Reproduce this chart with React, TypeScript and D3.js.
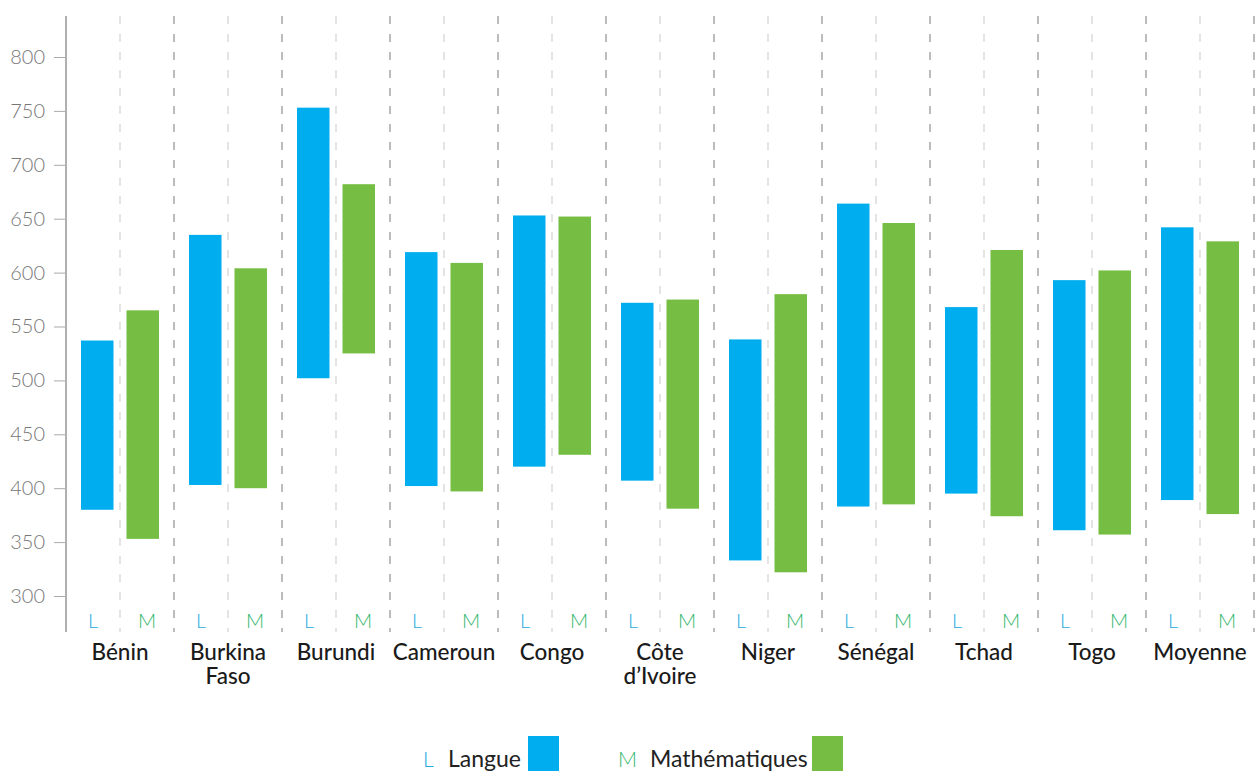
import React, { useEffect, useRef } from "react";
import * as d3 from "d3";

const countries = ["Bénin", "Burkina Faso", "Burundi", "Cameroun", "Congo", "Côte d’Ivoire", "Niger", "Sénégal", "Tchad", "Togo", "Moyenne"];
const langueLow = [380, 403, 502, 402, 420, 407, 333, 383, 395, 361, 389];
const langueHigh = [537, 635, 753, 619, 653, 572, 538, 664, 568, 593, 642];
const mathLow = [353, 400, 525, 397, 431, 381, 322, 385, 374, 357, 376];
const mathHigh = [565, 604, 682, 609, 652, 575, 580, 646, 621, 602, 629];
const yTicks = [300, 350, 400, 450, 500, 550, 600, 650, 700, 750, 800];

const blue = "#00adef";
const green = "#76be43";
const blueText = "#29abe2";
const greenText = "#2db56b";
const font = "Lato, 'Open Sans', sans-serif";

const App: React.FC = () => {
    const svgRef = useRef<SVGSVGElement | null>(null);
    const width = 1260;
    const height = 771;
    const left = 66;
    const right = 1254;
    const axisTop = 16;
    const axisBottom = 632;

    useEffect(() => {
        const svg = d3.select(svgRef.current);
        svg.selectAll("*").remove();

        const x = d3.scaleBand<string>().domain(countries).range([left, right]).padding(0);
        const inner = d3.scaleBand<string>().domain(["L", "M"]).range([0, x.bandwidth()])
            .paddingInner(0.2857).paddingOuter(0.33);
        const y = d3.scaleLinear().domain([300, 800]).range([596, 57]);

        // group separators
        const g = svg.append("g");
        countries.forEach((c) => {
            const x0 = x(c)!;
            g.append("line")
                .attr("x1", x0 + x.bandwidth() / 2).attr("x2", x0 + x.bandwidth() / 2)
                .attr("y1", axisTop).attr("y2", axisBottom)
                .attr("stroke", "#dcdcdc").attr("stroke-width", 1.5)
                .attr("stroke-dasharray", "8,10");
            g.append("line")
                .attr("x1", x0 + x.bandwidth()).attr("x2", x0 + x.bandwidth())
                .attr("y1", axisTop).attr("y2", axisBottom)
                .attr("stroke", "#999").attr("stroke-width", 1.3)
                .attr("stroke-dasharray", "8,10");
        });

        // y axis
        const yAxis = svg.append("g")
            .attr("transform", `translate(${left},0)`)
            .call(d3.axisLeft(y).tickValues(yTicks).tickSize(12).tickPadding(9).tickSizeOuter(0));
        yAxis.select(".domain").remove();
        yAxis.selectAll(".tick line").attr("stroke", "#aaa");
        yAxis.selectAll(".tick text")
            .attr("fill", "#777").style("font-family", font).style("font-size", "20px")
            .style("font-weight", 300);
        svg.append("line")
            .attr("x1", left).attr("x2", left).attr("y1", axisTop).attr("y2", axisBottom)
            .attr("stroke", "#b0b0b0").attr("stroke-width", 2);

        // bars
        const bars = svg.append("g");
        countries.forEach((c, i) => {
            const x0 = x(c)!;
            bars.append("rect")
                .attr("x", x0 + inner("L")!).attr("width", inner.bandwidth())
                .attr("y", y(langueHigh[i])).attr("height", y(langueLow[i]) - y(langueHigh[i]))
                .attr("fill", blue);
            bars.append("rect")
                .attr("x", x0 + inner("M")!).attr("width", inner.bandwidth())
                .attr("y", y(mathHigh[i])).attr("height", y(mathLow[i]) - y(mathHigh[i]))
                .attr("fill", green);

            // L / M labels
            bars.append("text").attr("x", x0 + x.bandwidth() / 4).attr("y", 628)
                .attr("text-anchor", "middle").attr("fill", blueText)
                .style("font-family", font).style("font-size", "20px").style("font-weight", 300)
                .text("L");
            bars.append("text").attr("x", x0 + (3 * x.bandwidth()) / 4).attr("y", 628)
                .attr("text-anchor", "middle").attr("fill", greenText)
                .style("font-family", font).style("font-size", "20px").style("font-weight", 300)
                .text("M");

            // country label
            const words = c === "Burkina Faso" ? ["Burkina", "Faso"] : c === "Côte d’Ivoire" ? ["Côte", "d’Ivoire"] : [c];
            words.forEach((w, k) => {
                bars.append("text").attr("x", x0 + x.bandwidth() / 2).attr("y", 660 + k * 24)
                    .attr("text-anchor", "middle").attr("fill", "#1a1a1a")
                    .style("font-family", font).style("font-size", "22.5px").style("font-weight", 500)
                    .text(w);
            });
        });

        // legend
        const legend = svg.append("g");
        const items = [
            { key: "L", label: "Langue", text: blueText, fill: blue, x: 423, gap: 25, box: 528 },
            { key: "M", label: "Mathématiques", text: greenText, fill: green, x: 618, gap: 32, box: 812 },
        ];
        items.forEach((it) => {
            legend.append("text").attr("x", it.x).attr("y", 767).attr("fill", it.text)
                .style("font-family", font).style("font-size", "21px").style("font-weight", 300).text(it.key);
            legend.append("text").attr("x", it.x + it.gap).attr("y", 767).attr("fill", "#222")
                .style("font-family", font).style("font-size", "23px").style("font-weight", 400).text(it.label);
            legend.append("rect").attr("x", it.box).attr("y", 736).attr("width", 31).attr("height", 40)
                .attr("fill", it.fill);
        });
    }, []);

    return (
        <svg ref={svgRef} width={width} height={height}
            style={{ position: "absolute", left: 0, top: 0, background: "#fff" }} />
    );
};

export default App;
